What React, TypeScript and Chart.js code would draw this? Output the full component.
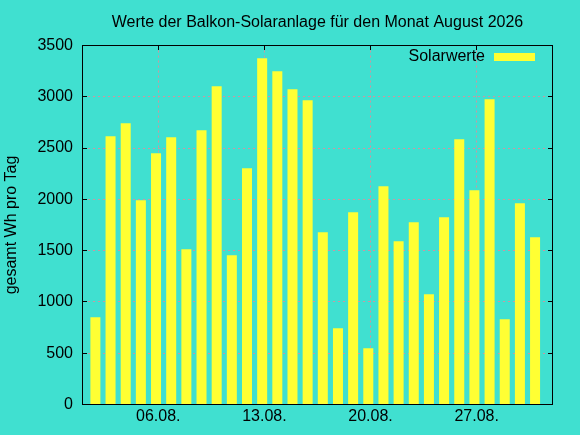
import { useEffect, useRef } from "react";
import { Chart, registerables } from "chart.js";

Chart.register(...registerables);

const chartTitle = "Werte der Balkon-Solaranlage für den Monat August 2026";
const seriesLabel = "Solarwerte";
const yAxisTitle = "gesamt Wh pro Tag";

// day of month (August) for each bar
const days = [2, 3, 4, 5, 6, 7, 8, 9, 10, 11, 12, 13, 14, 15, 16, 17, 18, 19, 20, 21, 22, 23, 24, 25, 26, 27, 28, 29, 30, 31];
// Wh per day
const solarWh = [851, 2615, 2742, 1991, 2449, 2605, 1514, 2674, 3102, 1455, 2303, 3375, 3248, 3073, 2966, 1679, 744, 1874, 549, 2128, 1592, 1777, 1075, 1826, 2586, 2089, 2976, 832, 1962, 1631];

const xTickDays = [6, 13, 20, 27];
const xTickLabels = ["06.08.", "13.08.", "20.08.", "27.08."];
const yTickValues = [0, 500, 1000, 1500, 2000, 2500, 3000, 3500];

const BG = "#40e0d0";
const BAR = "#ffff33";
const GRID = "rgb(205,150,160)";
const FONT = "'Liberation Sans', Arial, sans-serif";
const DAY_SHIFT = -0.15;

const framePlugin = {
  id: "gnuFrame",
  beforeDraw(chart: any) {
    const { ctx, width, height } = chart;
    ctx.save();
    ctx.fillStyle = BG;
    ctx.fillRect(0, 0, width, height);
    ctx.restore();
  },
  beforeDatasetsDraw(chart: any) {
    const { ctx, chartArea: a, scales } = chart;
    const L = 4.5;
    ctx.save();
    ctx.strokeStyle = "#000";
    ctx.lineWidth = 1;
    ctx.beginPath();
    for (const v of yTickValues) {
      const y = Math.round(scales.y.getPixelForValue(v) - 0.5) + 0.5;
      ctx.moveTo(a.left, y);
      ctx.lineTo(a.left + L, y);
      ctx.moveTo(a.right, y);
      ctx.lineTo(a.right - L, y);
    }
    for (const d of xTickDays) {
      const x = Math.round(scales.x.getPixelForValue(d) - 0.5) + 0.5;
      ctx.moveTo(x, a.top);
      ctx.lineTo(x, a.top + L);
      ctx.moveTo(x, a.bottom);
      ctx.lineTo(x, a.bottom - L);
    }
    ctx.stroke();
    ctx.restore();
  },
  afterDatasetsDraw(chart: any) {
    const { ctx, chartArea: a } = chart;
    ctx.save();
    ctx.strokeStyle = "#000";
    ctx.lineWidth = 1;
    ctx.strokeRect(a.left, a.top, a.right - a.left, a.bottom - a.top);
    ctx.restore();
  },
  afterDraw(chart: any) {
    const { ctx, chartArea: a } = chart;
    ctx.save();
    ctx.fillStyle = "#000";
    ctx.font = `16px ${FONT}`;
    ctx.textAlign = "center";
    ctx.textBaseline = "alphabetic";
    ctx.fillText(chartTitle, (a.left + a.right) / 2, 27);
    // legend
    ctx.textAlign = "right";
    ctx.fillText(chart.data.datasets[0].label, a.right - 67.5, 61);
    ctx.fillStyle = BAR;
    ctx.fillRect(a.right - 58.5, 53, 41, 8);
    ctx.restore();
  },
};

export default function App() {
  const ref = useRef<HTMLCanvasElement | null>(null);

  useEffect(() => {
    if (!ref.current) return;
    const chart = new Chart(ref.current, {
      type: "bar",
      data: {
        datasets: [
          {
            label: seriesLabel,
            data: days.map((d, i) => ({ x: d + DAY_SHIFT, y: solarWh[i] })),
            backgroundColor: BAR,
            borderWidth: 0,
            barPercentage: 0.66,
            categoryPercentage: 1,
          },
        ],
      },
      options: {
        animation: false,
        responsive: false,
        maintainAspectRatio: false,
        devicePixelRatio: 1,
        layout: { padding: { top: 45.5, right: 27.5, bottom: 0, left: 0 } },
        plugins: {
          legend: { display: false },
          title: { display: false },
          tooltip: { enabled: false },
        },
        scales: {
          x: {
            type: "linear",
            min: 1,
            max: 32,
            offset: false,
            afterBuildTicks: (scale: any) => {
              scale.ticks = xTickDays.map((v) => ({ value: v }));
            },
            afterFit: (scale: any) => {
              scale.height = 30.5;
            },
            ticks: {
              autoSkip: false,
              maxRotation: 0,
              padding: 2,
              color: "#000",
              font: { family: FONT, size: 16 },
              callback: (v: any) => xTickLabels[xTickDays.indexOf(Number(v))] ?? "",
            },
            grid: { color: GRID, drawTicks: false, lineWidth: 1, offset: false },
            border: { display: false, dash: [2, 3] },
          },
          y: {
            type: "linear",
            min: 0,
            max: 3500,
            afterBuildTicks: (scale: any) => {
              scale.ticks = yTickValues.map((v) => ({ value: v }));
            },
            afterFit: (scale: any) => {
              scale.width = 82.5;
            },
            ticks: {
              padding: 9.5,
              color: "#000",
              font: { family: FONT, size: 16 },
              callback: (v: any) => String(v),
            },
            grid: {
              color: (c: any) =>
                c.tick && (c.tick.value === 0 || c.tick.value === 3500) ? "rgba(0,0,0,0)" : GRID,
              drawTicks: false,
              lineWidth: 1,
            },
            border: { display: false, dash: [2, 3] },
            title: {
              display: true,
              text: yAxisTitle,
              color: "#000",
              font: { family: FONT, size: 16 },
              padding: { top: 1.5, bottom: 0 },
            },
          },
        },
      },
      plugins: [framePlugin],
    } as any);
    return () => chart.destroy();
  }, []);

  return (
    <div style={{ position: "fixed", left: 0, top: 0, width: 580, height: 435, background: BG }}>
      <canvas ref={ref} width={580} height={435} style={{ display: "block" }} />
    </div>
  );
}
